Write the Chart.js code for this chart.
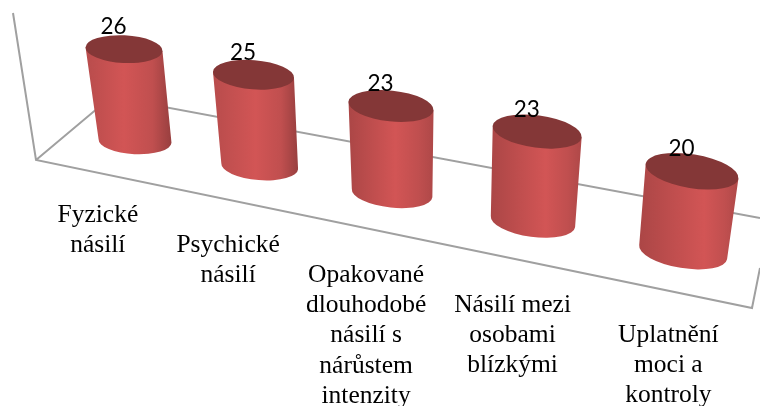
<!DOCTYPE html>
<html>
<head>
<meta charset="utf-8">
<style>
  html, body { margin: 0; padding: 0; background: #fff; }
  #wrap { width: 760px; height: 406px; }
</style>
<script src="https://cdn.jsdelivr.net/npm/chart.js@4"></script>
</head>
<body>
<div id="wrap"><canvas id="chart" width="760" height="406"></canvas></div>
<script>
const categories = [
  ['Fyzické', 'násilí'],
  ['Psychické', 'násilí'],
  ['Opakované', 'dlouhodobé', 'násilí s', 'nárůstem', 'intenzity'],
  ['Násilí mezi', 'osobami', 'blízkými'],
  ['Uplatnění', 'moci a', 'kontroly'],
];
const values = [26, 25, 23, 23, 20];

// perspective of the floor: t is the position along the category axis (0..1)
const floorX = t => (576.9 * t + 75.4) / (1 - 0.144 * t);
const floorY = x => 141 + 0.2026 * (x - 135);
const lean = x => (x - 421) * 0.00042;

function lerp(a, b, t) { return a + (b - a) * t; }

function drawFrame(ctx) {
  ctx.save();
  ctx.strokeStyle = '#a0a0a0';
  ctx.lineWidth = 2;
  ctx.beginPath();
  ctx.moveTo(13, 13);
  ctx.lineTo(36, 160);
  ctx.lineTo(752, 308);
  ctx.lineTo(760, 268);
  ctx.moveTo(36, 160);
  ctx.lineTo(111, 97);
  ctx.lineTo(760, 218);
  ctx.stroke();
  ctx.restore();
}

function drawCylinder(ctx, bar, t) {
  const bx = floorX(t);
  const by = floorY(bx);
  const h = (bar.base - bar.y) * (1 + 0.18 * (t - 0.1));
  const tx = bx + lean(bx) * h;
  const ty = by - h;
  const a = 35.5 + 10 * t;
  const at = a * 1.055;
  const rot = (2 + 8 * t) * Math.PI / 180;
  const c = Math.cos(rot), s = Math.sin(rot);

  // side
  const left = Math.min(bx - a, tx - at);
  const right = Math.max(bx + a, tx + at);
  const g = ctx.createLinearGradient(left, 0, right, 0);
  const peak = 0.42 + 0.26 * t;
  g.addColorStop(0, t < 0.5 ? '#b84c4c' : '#ab4646');
  g.addColorStop(peak, '#d25555');
  g.addColorStop(lerp(peak, 1, 0.6), '#c04f4f');
  g.addColorStop(1, t < 0.5 ? '#983f3f' : '#ae4848');
  ctx.beginPath();
  ctx.ellipse(bx, by, a, a * 0.36, rot, 0, Math.PI);
  ctx.lineTo(tx - at * c, ty - at * s);
  ctx.lineTo(tx + at * c, ty + at * s);
  ctx.closePath();
  ctx.fillStyle = g;
  ctx.fill();

  // top
  ctx.beginPath();
  ctx.ellipse(tx, ty, at, at * 0.36, rot, 0, Math.PI * 2);
  ctx.fillStyle = '#843737';
  ctx.fill();

  return { tx, ty };
}

// 3D look of the chart: bars come from the scales, the plugin projects them
const cylinders = {
  id: 'cylinders',
  beforeDatasetsDraw(chart) {
    const ctx = chart.ctx;
    const area = chart.chartArea;
    const bars = chart.getDatasetMeta(0).data;
    drawFrame(ctx);

    ctx.save();
    ctx.filter = 'blur(0.5px)';
    const tops = bars.map(bar => drawCylinder(ctx, bar, (bar.x - area.left) / area.width));
    ctx.restore();

    // value labels
    ctx.save();
    ctx.fillStyle = '#000';
    ctx.font = '22.5px Lato';
    ctx.textAlign = 'center';
    ctx.textBaseline = 'middle';
    tops.forEach((p, i) => ctx.fillText(String(values[i]), p.tx - 10.5, p.ty - 22));
    ctx.restore();

    // category labels
    ctx.save();
    ctx.fillStyle = '#000';
    ctx.font = '25.5px "Liberation Serif"';
    ctx.textAlign = 'center';
    ctx.textBaseline = 'alphabetic';
    bars.forEach((bar, i) => {
      const t = (bar.x - area.left) / area.width;
      const x = floorX(t) - (40 - 28 * t);
      const y = 207 + 150 * t;
      categories[i].forEach((line, j) => ctx.fillText(line, x, y + j * 30.2));
    });
    ctx.restore();
    return false;
  },
};

new Chart(document.getElementById('chart'), {
  type: 'bar',
  data: {
    labels: categories.map(c => c.join(' ')),
    datasets: [{ data: values, backgroundColor: '#d25555' }],
  },
  options: {
    responsive: false,
    animation: false,
    layout: { padding: { top: 300 } },
    plugins: { legend: { display: false }, tooltip: { enabled: false } },
    scales: {
      x: { display: false },
      y: { display: false, min: 0, max: 30 },
    },
  },
  plugins: [cylinders],
});
</script>
</body>
</html>
